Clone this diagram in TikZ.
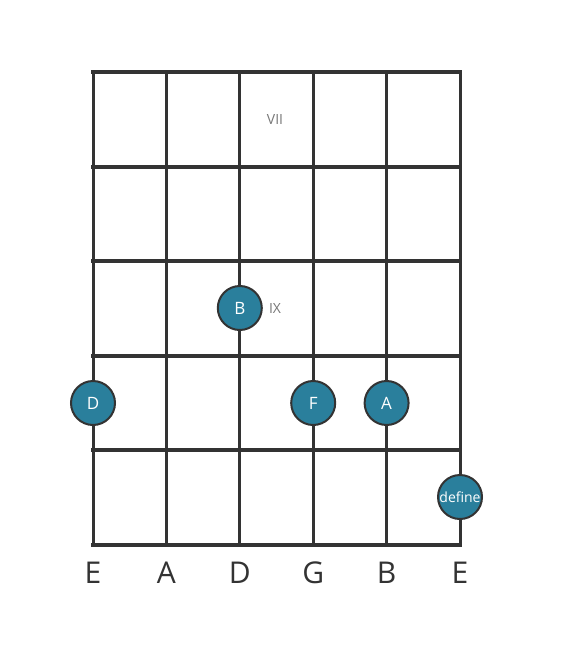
\documentclass[tikz,border=0pt]{standalone}
\usepackage{fontspec}
\setmainfont{Open Sans}
\definecolor{dotblue}{HTML}{2A7F9C}
\definecolor{ink}{HTML}{333333}
\definecolor{fretnum}{HTML}{777777}
\tikzset{
    note/.style={circle, draw=ink, line width=2pt, fill=dotblue, minimum size=44pt, inner sep=0pt, text=white, font=\fontsize{17}{17}\selectfont},
    longnote/.style={note, font=\fontsize{14}{14}\selectfont},
    strname/.style={text=ink, font=\fontsize{30}{30}\selectfont},
    fretlabel/.style={text=fretnum, font=\fontsize{14}{14}\selectfont}
}
\begin{document}
\begin{tikzpicture}[x=1pt, y=-1pt]
\useasboundingbox (0,0) rectangle (567,656);
% strings
\foreach \x/\n in {93/0,166.4/1,239.8/2,313.2/3,386.6/4,460/5} {
    \coordinate (s\n top) at (\x,72);
    \coordinate (s\n bot) at (\x,545);
    \draw[ink, line width=3pt] (s\n top) -- (s\n bot);
}
% frets
\foreach \y/\n in {72/0,166.6/1,261.2/2,355.8/3,450.4/4,545/5} {
    \coordinate (f\n l) at (93,\y);
    \coordinate (f\n r) at (460,\y);
    \draw[ink, line width=4pt, line cap=rect] (f\n l) -- (f\n r);
}
% fret numbers
\node[fretlabel] (vii) at (275,120) {VII};
\node[fretlabel] (ix) at (275,308) {IX};
% notes
\node[note] (nD) at (93,403) {D};
\node[note] (nB) at (239.8,308) {B};
\node[note] (nF) at (313.2,403) {F};
\node[note] (nA) at (386.6,403) {A};
\node[longnote] (nE) at (460,497) {define};
% string names
\foreach \x/\s/\n in {93/E/0,166.4/A/1,239.8/D/2,313.2/G/3,386.6/B/4,460/E/5} {
    \node[strname] (name\n) at (\x,573) {\s};
}
\end{tikzpicture}
\end{document}
